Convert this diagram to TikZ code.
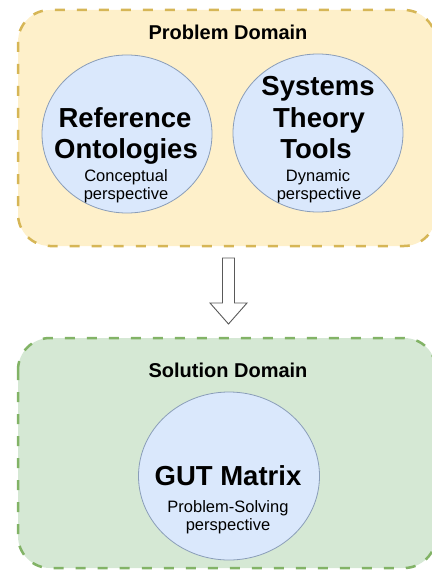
\documentclass[tikz,border=0pt]{standalone}
\usepackage{fontspec}
\setmainfont{Liberation Sans}
\usetikzlibrary{shapes.geometric}
\definecolor{pfill}{HTML}{FEF0CA}
\definecolor{pline}{HTML}{D6B656}
\definecolor{sfill}{HTML}{D5E8D4}
\definecolor{sline}{HTML}{82B366}
\definecolor{cfill}{HTML}{DAE8FC}
\definecolor{cline}{HTML}{8A9DB8}
\tikzset{
  domainbox/.style={line width=2.5pt, dash pattern=on 10pt off 12pt, rounded corners=32pt},
  bubble/.style={ellipse, draw=cline, fill=cfill, line width=0.8pt, inner sep=0pt},
  bigtxt/.style={anchor=base, inner sep=0pt, font=\fontsize{27.5}{30}\selectfont\bfseries},
  smalltxt/.style={anchor=base, inner sep=0pt, font=\fontsize{16.5}{18}\selectfont},
  titletxt/.style={anchor=base, inner sep=0pt, font=\fontsize{20}{22}\selectfont\bfseries},
  blockarrow/.style={draw=black!65, fill=white, line width=0.9pt, line join=miter}
}
\begin{document}
\begin{tikzpicture}[x=1pt,y=-1pt]
\useasboundingbox (0,0) rectangle (431,572);
% domains
\draw[domainbox, draw=pline, fill=pfill] (18,10) rectangle (436,246);
\draw[domainbox, draw=sline, fill=sfill] (18,338) rectangle (436,568);
\node[titletxt] (ptitle) at (228,40) {Problem Domain};
\node[titletxt] (stitle) at (228,377) {Solution Domain};
% circles
\node[bubble, minimum width=170pt, minimum height=158pt] (ref) at (127,134) {};
\node[bubble, minimum width=170pt, minimum height=158pt] (sys) at (318,133) {};
\node[bubble, minimum width=181pt, minimum height=168pt] (gut) at (229,476) {};
% texts left
\node[bigtxt] (r1) at (125,128) {Reference};
\node[bigtxt] (r2) at (126,159) {Ontologies};
\node[smalltxt] (r3) at (126,181) {Conceptual};
\node[smalltxt] (r4) at (126,199) {perspective};
% texts right
\node[bigtxt] (s1) at (318,96) {Systems};
\node[bigtxt] (s2) at (319,128) {Theory};
\node[bigtxt] (s3) at (316,159) {Tools};
\node[smalltxt] (s4) at (318,181) {Dynamic};
\node[smalltxt] (s5) at (319,199) {perspective};
% texts bottom
\node[bigtxt] (g1) at (228,485) {GUT Matrix};
\node[smalltxt] (g2) at (228,512) {Problem-Solving};
\node[smalltxt] (g3) at (228,530) {perspective};
% block arrow
\coordinate (atop) at (228.5,258);
\coordinate (atip) at (228.5,324);
\draw[blockarrow] ([xshift=-6pt]atop) -- ([xshift=6pt]atop) -- ([xshift=6pt]atop |- 0,303)
  -- ([xshift=18.5pt]atop |- 0,303) -- (atip) -- ([xshift=-18.5pt]atop |- 0,303)
  -- ([xshift=-6pt]atop |- 0,303) -- cycle;
\end{tikzpicture}
\end{document}
